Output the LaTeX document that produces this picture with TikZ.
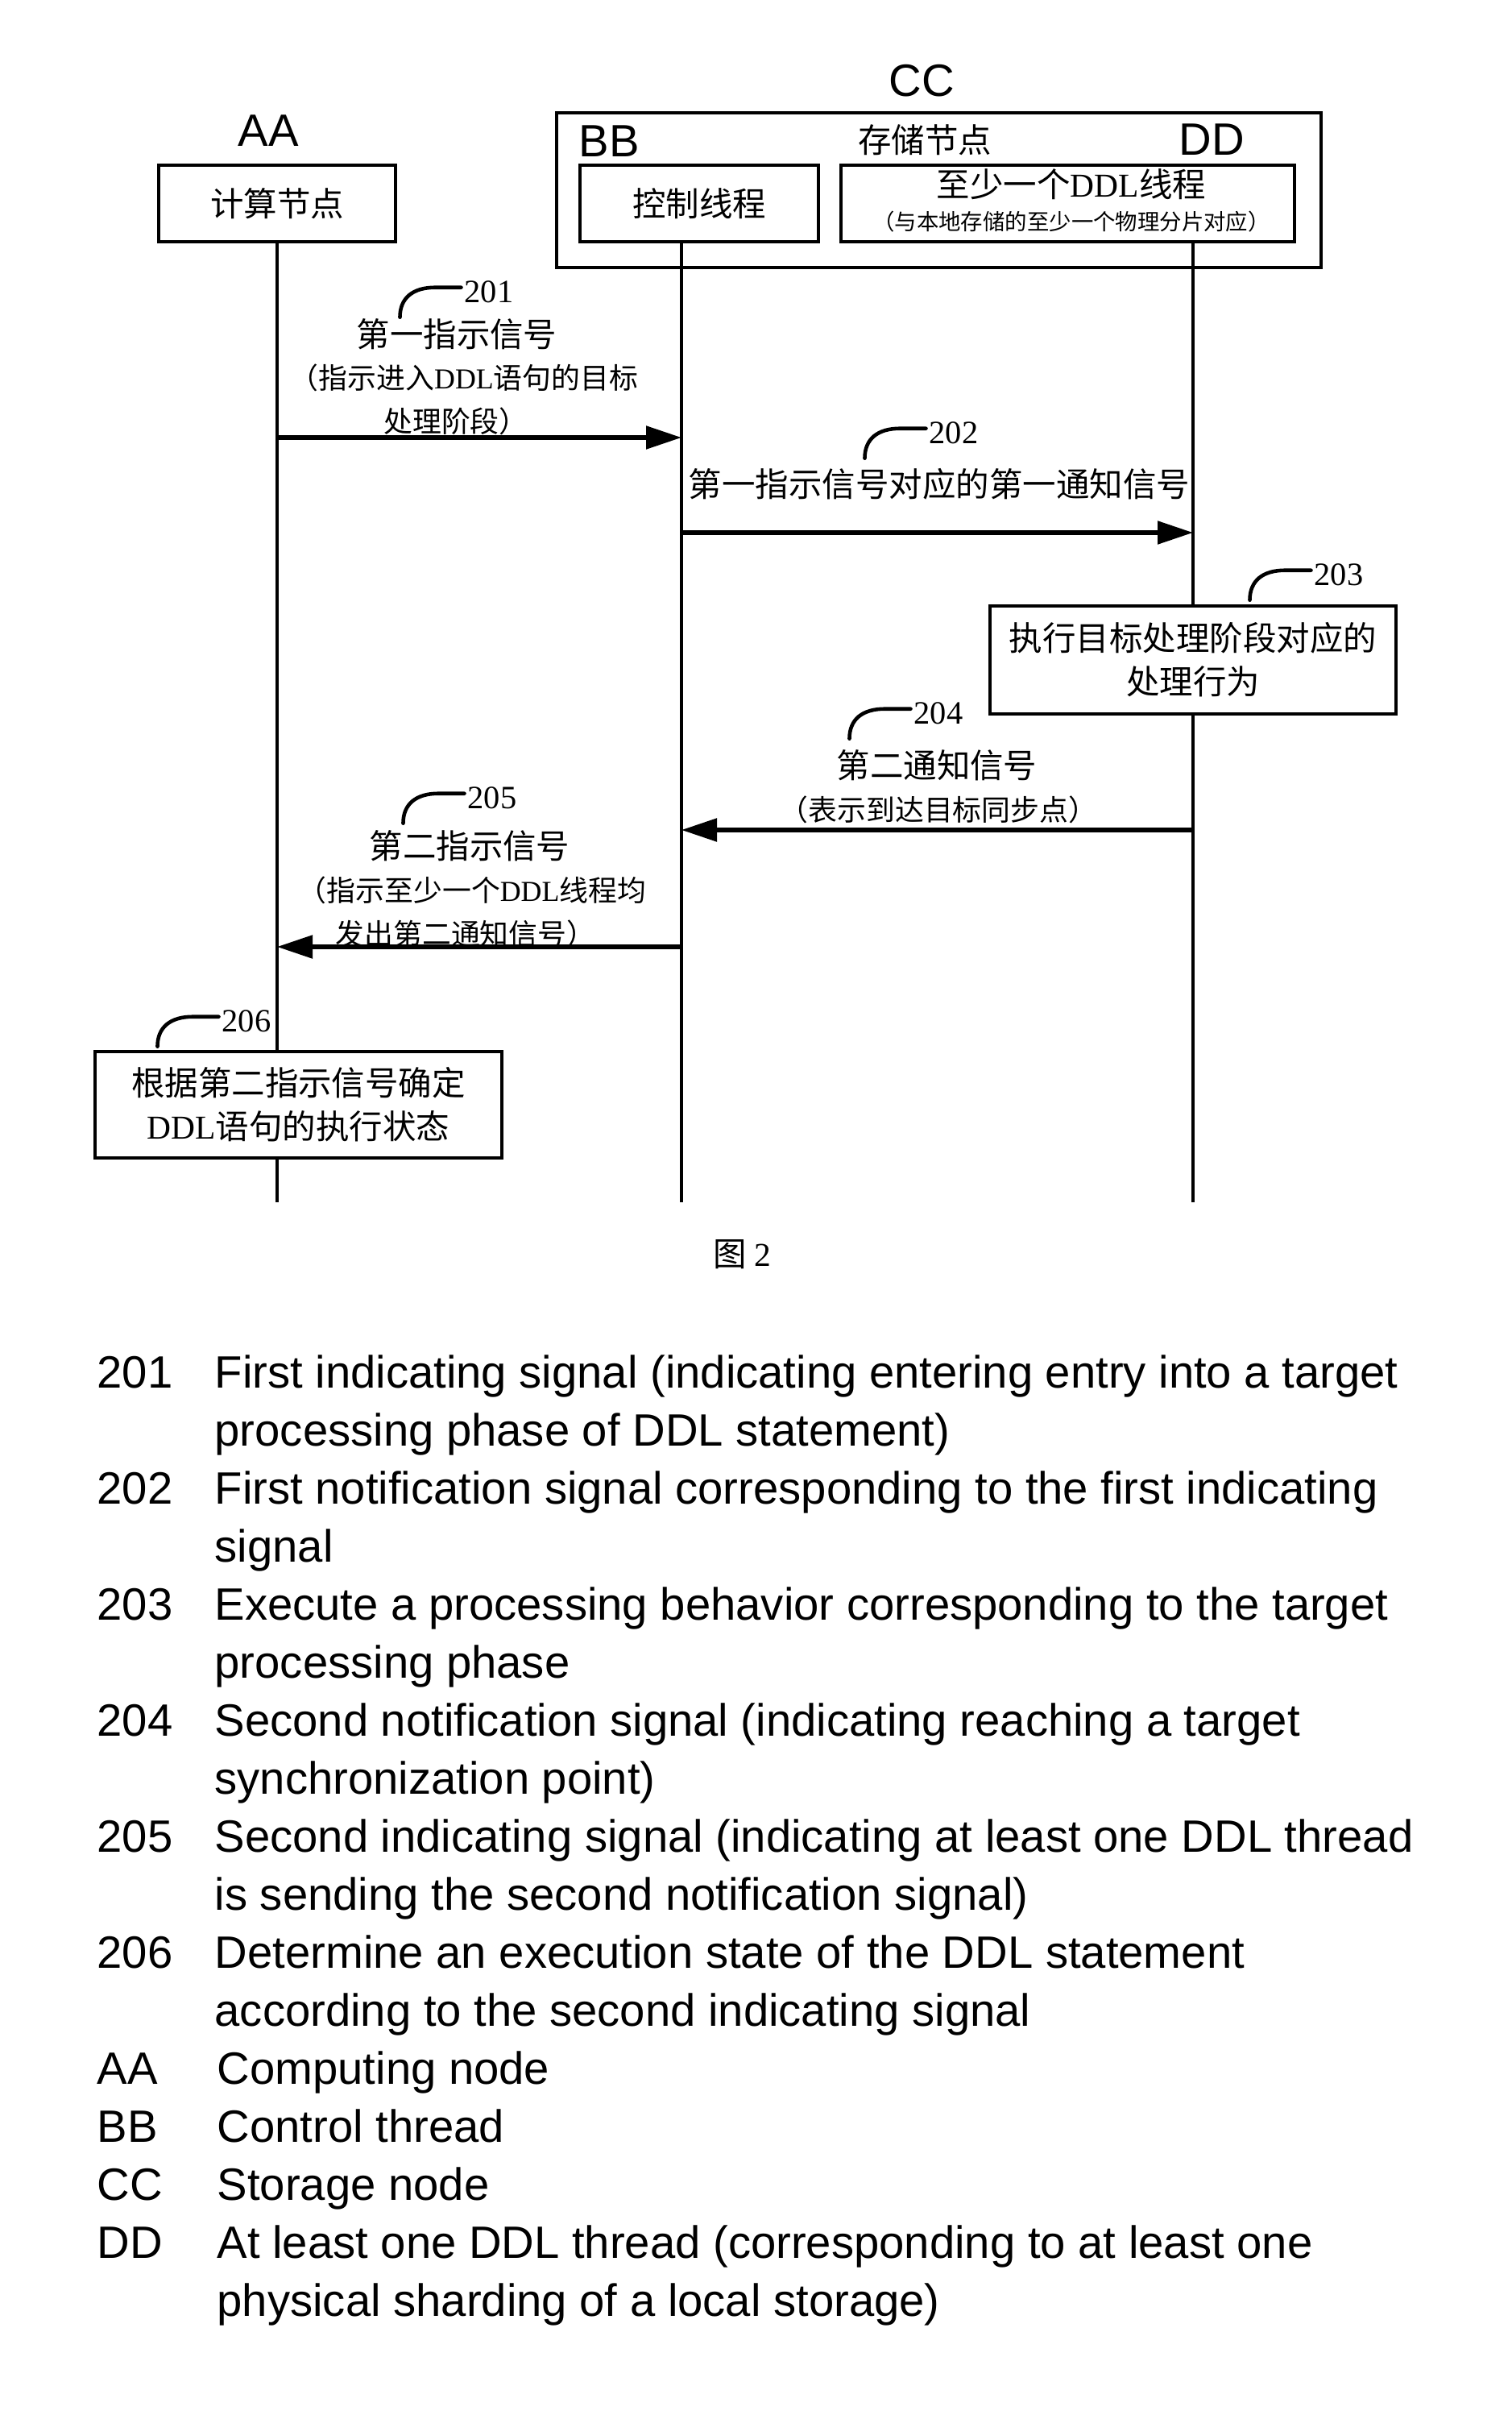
\documentclass[tikz,border=0pt]{standalone}
\usepackage{fontspec}
\setmainfont{Liberation Sans}
\newfontfamily\cjk{Noto Sans CJK SC}
\newfontfamily\tms{Liberation Serif}
\usetikzlibrary{arrows.meta}

\begin{document}
\begin{tikzpicture}[
  box/.style={draw, line width=1pt, fill=white, align=center, inner sep=0pt,
    font=\cjk\fontsize{11.8pt}{15.4pt}\selectfont},
  frame/.style={draw, line width=1pt, inner sep=0pt},
  letter/.style={font=\fontsize{16pt}{19pt}\selectfont, inner sep=0pt},
  lbl/.style={font=\cjk\fontsize{11.8pt}{15pt}\selectfont, inner sep=0pt},
  lblsmall/.style={font=\cjk\fontsize{10.2pt}{13pt}\selectfont, inner sep=0pt},
  lbltiny/.style={font=\cjk\fontsize{7.8pt}{9pt}\selectfont, inner sep=0pt},
  stepno/.style={font=\tms\fontsize{11.5pt}{13pt}\selectfont, inner sep=1pt},
  life/.style={line width=0.9pt},
  msg/.style={-{Triangle[length=4.4mm, width=2.8mm]}, line width=1.5pt},
  callout/.style={line width=1.3pt, line cap=round},
  legnum/.style={font=\fontsize{16pt}{20.49pt}\selectfont, inner sep=0pt, anchor=base west},
  legtxt/.style={legnum, align=left}
]
  \useasboundingbox (0,0) rectangle (18.76,-29.97);

  % participants
  \node[frame, minimum width=9.49cm, minimum height=1.92cm] (store) at (11.655,-2.36) {};
  \node[letter] (tAA) at (3.33,-1.62) {AA};
  \node[letter] (tCC) at (11.44,-1.00) {CC};
  \node[letter] (tBB) at (7.56,-1.75) {BB};
  \node[letter] (tDD) at (15.04,-1.73) {DD};
  \node[lbl] (storetxt) at (11.48,-1.74) {存储节点};
  \node[box, minimum width=2.94cm, minimum height=0.95cm] (comp) at (3.44,-2.525) {计算节点};
  \node[box, minimum width=2.96cm, minimum height=0.95cm] (ctrl) at (8.68,-2.525) {控制线程};
  \node[box, minimum width=5.63cm, minimum height=0.95cm] (ddl) at (13.255,-2.525) {};
  \node[lbl] (ddl1) at (13.30,-2.29) {至少一个{\tms DDL}线程};
  \node[lbltiny] (ddl2) at (13.30,-2.75) {（与本地存储的至少一个物理分片对应）};

  % lifelines
  \coordinate (aaT) at (comp.south);
  \coordinate (bbT) at (8.46,-3.00);
  \coordinate (ddT) at (14.81,-3.00);
  \coordinate (bottom) at (0,-14.92);
  \draw[life] (aaT) -- (aaT |- bottom);
  \draw[life] (bbT) -- (bbT |- bottom);
  \draw[life] (ddT) -- (ddT |- bottom);

  % 201
  \coordinate (y1) at (0,-5.43);
  \node[stepno] (n201) at (6.07,-3.62) {201};
  \draw[callout] ([yshift=1.5pt]n201.west) -- ++(-0.32,0) .. controls +(-0.28,0) and +(0,0.24) .. ++(-0.44,-0.37);
  \node[lbl] (s1a) at (5.67,-4.15) {第一指示信号};
  \node[lblsmall] (s1b) at (5.76,-4.69) {（指示进入{\tms DDL}语句的目标};
  \node[lblsmall] (s1c) at (5.66,-5.23) {处理阶段）};
  \draw[msg] (aaT |- y1) -- (bbT |- y1);

  % 202
  \coordinate (y2) at (0,-6.61);
  \node[stepno] (n202) at (11.84,-5.37) {202};
  \draw[callout] ([yshift=1.5pt]n202.west) -- ++(-0.32,0) .. controls +(-0.28,0) and +(0,0.24) .. ++(-0.44,-0.37);
  \node[lbl] (s2) at (11.66,-6.01) {第一指示信号对应的第一通知信号};
  \draw[msg] (bbT |- y2) -- (ddT |- y2);

  % 203
  \node[stepno] (n203) at (16.62,-7.13) {203};
  \draw[callout] ([yshift=1.5pt]n203.west) -- ++(-0.32,0) .. controls +(-0.28,0) and +(0,0.24) .. ++(-0.44,-0.37);
  \node[box, minimum width=5.04cm, minimum height=1.34cm] (act) at (14.81,-8.19) {执行目标处理阶段对应的\\处理行为};

  % 204
  \coordinate (y3) at (0,-10.30);
  \node[stepno] (n204) at (11.65,-8.85) {204};
  \draw[callout] ([yshift=1.5pt]n204.west) -- ++(-0.32,0) .. controls +(-0.28,0) and +(0,0.24) .. ++(-0.44,-0.37);
  \node[lbl] (s4a) at (11.63,-9.50) {第二通知信号};
  \node[lblsmall] (s4b) at (11.65,-10.05) {（表示到达目标同步点）};
  \draw[msg] (ddT |- y3) -- (bbT |- y3);

  % 205
  \coordinate (y4) at (0,-11.75);
  \node[stepno] (n205) at (6.11,-9.90) {205};
  \draw[callout] ([yshift=1.5pt]n205.west) -- ++(-0.32,0) .. controls +(-0.28,0) and +(0,0.24) .. ++(-0.44,-0.37);
  \node[lbl] (s5a) at (5.83,-10.50) {第二指示信号};
  \node[lblsmall] (s5b) at (5.86,-11.05) {（指示至少一个{\tms DDL}线程均};
  \node[lblsmall] (s5c) at (5.78,-11.59) {发出第二通知信号）};
  \draw[msg] (bbT |- y4) -- (aaT |- y4);

  % 206
  \node[stepno] (n206) at (3.06,-12.67) {206};
  \draw[callout] ([yshift=1.5pt]n206.west) -- ++(-0.32,0) .. controls +(-0.28,0) and +(0,0.24) .. ++(-0.44,-0.37);
  \node[box, minimum width=5.05cm, minimum height=1.32cm] (state) at (3.705,-13.71) {根据第二指示信号确定\\{\tms DDL}语句的执行状态};

  \node[lbl] (fig) at (9.21,-15.57) {图 {\tms 2}};

  % legend (two-line texts sit on the baseline of their last line)
  \node[legnum] (k201) at (1.20,-17.22) {201};
  \node[legtxt] (d201) at (2.66,-17.94) {First indicating signal (indicating entering entry into a target\\processing phase of DDL statement)};
  \node[legnum] (k202) at (1.20,-18.66) {202};
  \node[legtxt] (d202) at (2.66,-19.38) {First notification signal corresponding to the first indicating\\signal};
  \node[legnum] (k203) at (1.20,-20.10) {203};
  \node[legtxt] (d203) at (2.66,-20.82) {Execute a processing behavior corresponding to the target\\processing phase};
  \node[legnum] (k204) at (1.20,-21.54) {204};
  \node[legtxt] (d204) at (2.66,-22.26) {Second notification signal (indicating reaching a target\\synchronization point)};
  \node[legnum] (k205) at (1.20,-22.98) {205};
  \node[legtxt] (d205) at (2.66,-23.70) {Second indicating signal (indicating at least one DDL thread\\is sending the second notification signal)};
  \node[legnum] (k206) at (1.20,-24.42) {206};
  \node[legtxt] (d206) at (2.66,-25.14) {Determine an execution state of the DDL statement\\according to the second indicating signal};
  \node[legnum] (kAA) at (1.20,-25.86) {AA};
  \node[legtxt] (dAA) at (2.69,-25.86) {Computing node};
  \node[legnum] (kBB) at (1.20,-26.58) {BB};
  \node[legtxt] (dBB) at (2.69,-26.58) {Control thread};
  \node[legnum] (kCC) at (1.20,-27.30) {CC};
  \node[legtxt] (dCC) at (2.69,-27.30) {Storage node};
  \node[legnum] (kDD) at (1.20,-28.02) {DD};
  \node[legtxt] (dDD) at (2.69,-28.74) {At least one DDL thread (corresponding to at least one\\physical sharding of a local storage)};
\end{tikzpicture}
\end{document}
